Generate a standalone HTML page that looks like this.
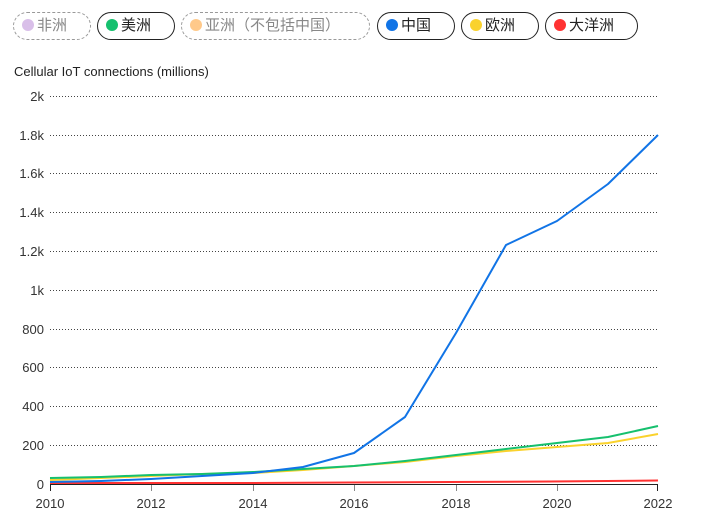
<!DOCTYPE html><html><head><meta charset="utf-8"><style>
body{margin:0;width:710px;height:523px;background:#fff;font-family:"Liberation Sans","Noto Sans CJK SC",sans-serif;overflow:hidden}
.p{position:absolute;top:12px;height:26px;border:1px solid #222;border-radius:14px;font-size:15px;line-height:26px;color:#222;box-sizing:content-box}
.p.off{border:1px dashed #999;color:#888}
.d{display:inline-block;width:12px;height:12px;border-radius:50%;margin:0 3px 0 8px;vertical-align:-1px}
</style></head><body>
<div class="p off" style="left:13px;width:76px"><span class="d" style="background:#d9bfe9"></span>非洲</div>
<div class="p" style="left:97px;width:76px"><span class="d" style="background:#16c06e"></span>美洲</div>
<div class="p off" style="left:181px;width:187px"><span class="d" style="background:#ffc98a"></span>亚洲（不包括中国）</div>
<div class="p" style="left:377px;width:76px"><span class="d" style="background:#1174e6"></span>中国</div>
<div class="p" style="left:461px;width:76px"><span class="d" style="background:#fad22d"></span>欧洲</div>
<div class="p" style="left:545px;width:91px"><span class="d" style="background:#ff3232"></span>大洋洲</div>
<svg width="710" height="523" style="position:absolute;left:0;top:0" font-family="Liberation Sans, sans-serif">
<text x="14" y="76" font-size="13" fill="#222">Cellular IoT connections (millions)</text>
<g stroke="#444" stroke-dasharray="1,2" stroke-width="1">
<line x1="50" x2="658" y1="96.5" y2="96.5"/><line x1="50" x2="658" y1="135.5" y2="135.5"/><line x1="50" x2="658" y1="173.5" y2="173.5"/><line x1="50" x2="658" y1="212.5" y2="212.5"/><line x1="50" x2="658" y1="251.5" y2="251.5"/><line x1="50" x2="658" y1="290.5" y2="290.5"/><line x1="50" x2="658" y1="329.5" y2="329.5"/><line x1="50" x2="658" y1="367.5" y2="367.5"/><line x1="50" x2="658" y1="406.5" y2="406.5"/><line x1="50" x2="658" y1="445.5" y2="445.5"/>
</g>
<g font-size="13" fill="#333" text-anchor="end">
<text x="44" y="101">2k</text><text x="44" y="140">1.8k</text><text x="44" y="178">1.6k</text><text x="44" y="217">1.4k</text><text x="44" y="256">1.2k</text><text x="44" y="295">1k</text><text x="44" y="334">800</text><text x="44" y="372">600</text><text x="44" y="411">400</text><text x="44" y="450">200</text><text x="44" y="489">0</text>
</g>
<g fill="none" stroke-width="2" stroke-linejoin="round">
<polyline stroke="#ff3232" points="50,483 150,483 250,483 350,482.5 450,482 550,481.5 658,480.5"/>
<polyline stroke="#fad22d" points="50,480 101,478 151,476 202,474 253,473 303,470 354,466 405,462 456,456 506,451 557,447 608,443 658,434"/>
<polyline stroke="#16c06e" points="50,478 101,477 151,475 202,474 253,472 303,469 354,466 405,461 456,455 506,449 557,443 608,437 658,426"/>
<polyline stroke="#1174e6" points="50,482 101,481 151,479 202,476 253,473 303,467 354,453 405,417 456,333 506,245 557,221 608,184 658,135"/>
</g>
<line x1="50" x2="658" y1="484.5" y2="484.5" stroke="#222" stroke-width="1"/>
<g stroke="#888" stroke-width="1"><line x1="151.5" x2="151.5" y1="485" y2="491"/><line x1="253.5" x2="253.5" y1="485" y2="491"/><line x1="354.5" x2="354.5" y1="485" y2="491"/><line x1="456.5" x2="456.5" y1="485" y2="491"/><line x1="557.5" x2="557.5" y1="485" y2="491"/></g>
<g stroke="#222" stroke-width="1"><line x1="50.5" x2="50.5" y1="485" y2="491"/><line x1="657.5" x2="657.5" y1="485" y2="491"/></g>
<g font-size="13" fill="#333" text-anchor="middle">
<text x="50" y="508">2010</text><text x="151" y="508">2012</text><text x="253" y="508">2014</text><text x="354" y="508">2016</text><text x="456" y="508">2018</text><text x="557" y="508">2020</text><text x="658" y="508">2022</text>
</g>
</svg>
</body></html>
